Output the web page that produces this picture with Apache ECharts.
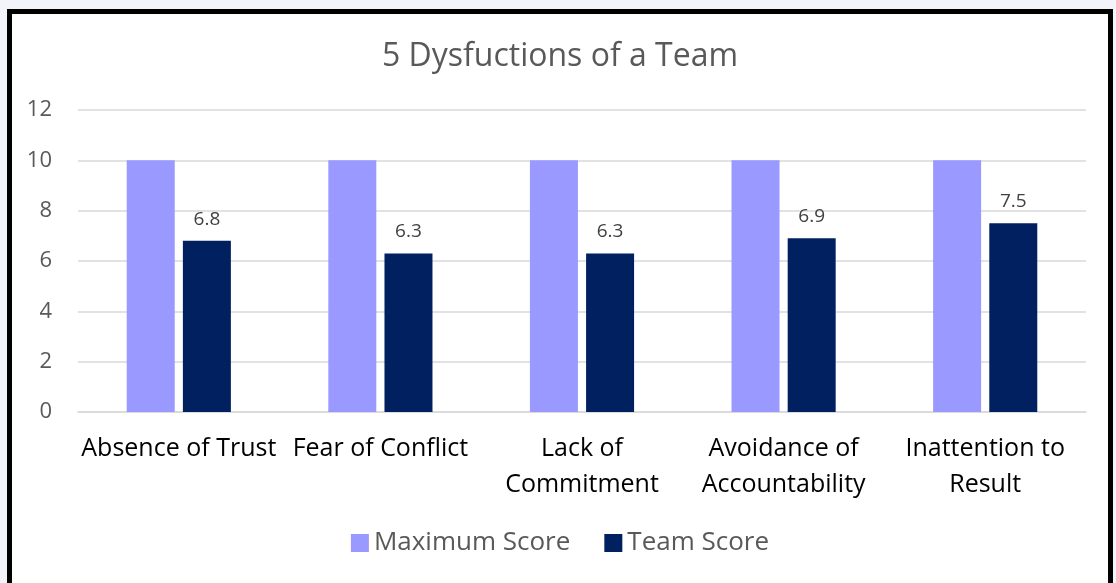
<!DOCTYPE html>
<html>
<head>
<meta charset="utf-8">
<script src="https://cdn.jsdelivr.net/npm/echarts@6/dist/echarts.min.js"></script>
<style>
html, body {
  margin: 0;
  padding: 0;
  width: 1116px;
  height: 583px;
  background-color: #f3f4fa;
  overflow: hidden;
}
#chart {
  position: absolute;
  left: 7px;
  top: 9px;
  width: 1096px;
  height: 569px;
  border: 5px solid #000;
  border-bottom: none;
  background-color: #fff;
}
</style>
</head>
<body>
<div id="chart"></div>
<script>
var categories = ['Absence of Trust', 'Fear of Conflict', 'Lack of\nCommitment', 'Avoidance of\nAccountability', 'Inattention to\nResult'];
var maxScore = [10, 10, 10, 10, 10];
var teamScore = [6.8, 6.3, 6.3, 6.9, 7.5];
var seriesNames = ['Maximum Score', 'Team Score'];

var font = '"Open Sans", Lato, sans-serif';
var myChart = echarts.init(document.getElementById('chart'));
var option = {
  animation: false,
  title: {
    text: '5 Dysfuctions of a Team',
    left: 'center',
    top: 22,
    textStyle: { color: '#595959', fontSize: 32, fontWeight: 'normal', fontFamily: font }
  },
  legend: {
    bottom: 22,
    left: 'center',
    itemWidth: 18,
    itemHeight: 18,
    itemGap: 34,
    icon: 'rect',
    textStyle: { color: '#595959', fontSize: 26, fontFamily: font }
  },
  grid: { left: 66, right: 22, top: 96, bottom: 171 },
  xAxis: {
    type: 'category',
    data: categories,
    axisLine: { lineStyle: { color: '#d9d9d9', width: 1.5 } },
    axisTick: { show: false },
    axisLabel: { color: '#000', fontSize: 25, lineHeight: 36, margin: 19, interval: 0, fontFamily: font }
  },
  yAxis: {
    type: 'value',
    min: 0,
    max: 12,
    interval: 2,
    axisLine: { show: false },
    axisTick: { show: false },
    splitLine: { lineStyle: { color: '#d9d9d9', width: 1.5 } },
    axisLabel: { color: '#595959', fontSize: 22, margin: 26, fontFamily: font }
  },
  series: [
    {
      name: seriesNames[0],
      type: 'bar',
      data: maxScore,
      barWidth: 48,
      barGap: '17%',
      itemStyle: { color: '#9999ff' }
    },
    {
      name: seriesNames[1],
      type: 'bar',
      data: teamScore,
      barWidth: 48,
      itemStyle: { color: '#002060' },
      label: {
        show: true,
        position: 'top',
        distance: 12,
        color: '#404040',
        fontSize: 19,
        fontFamily: font
      }
    }
  ]
};
myChart.setOption(option);
</script>
</body>
</html>
